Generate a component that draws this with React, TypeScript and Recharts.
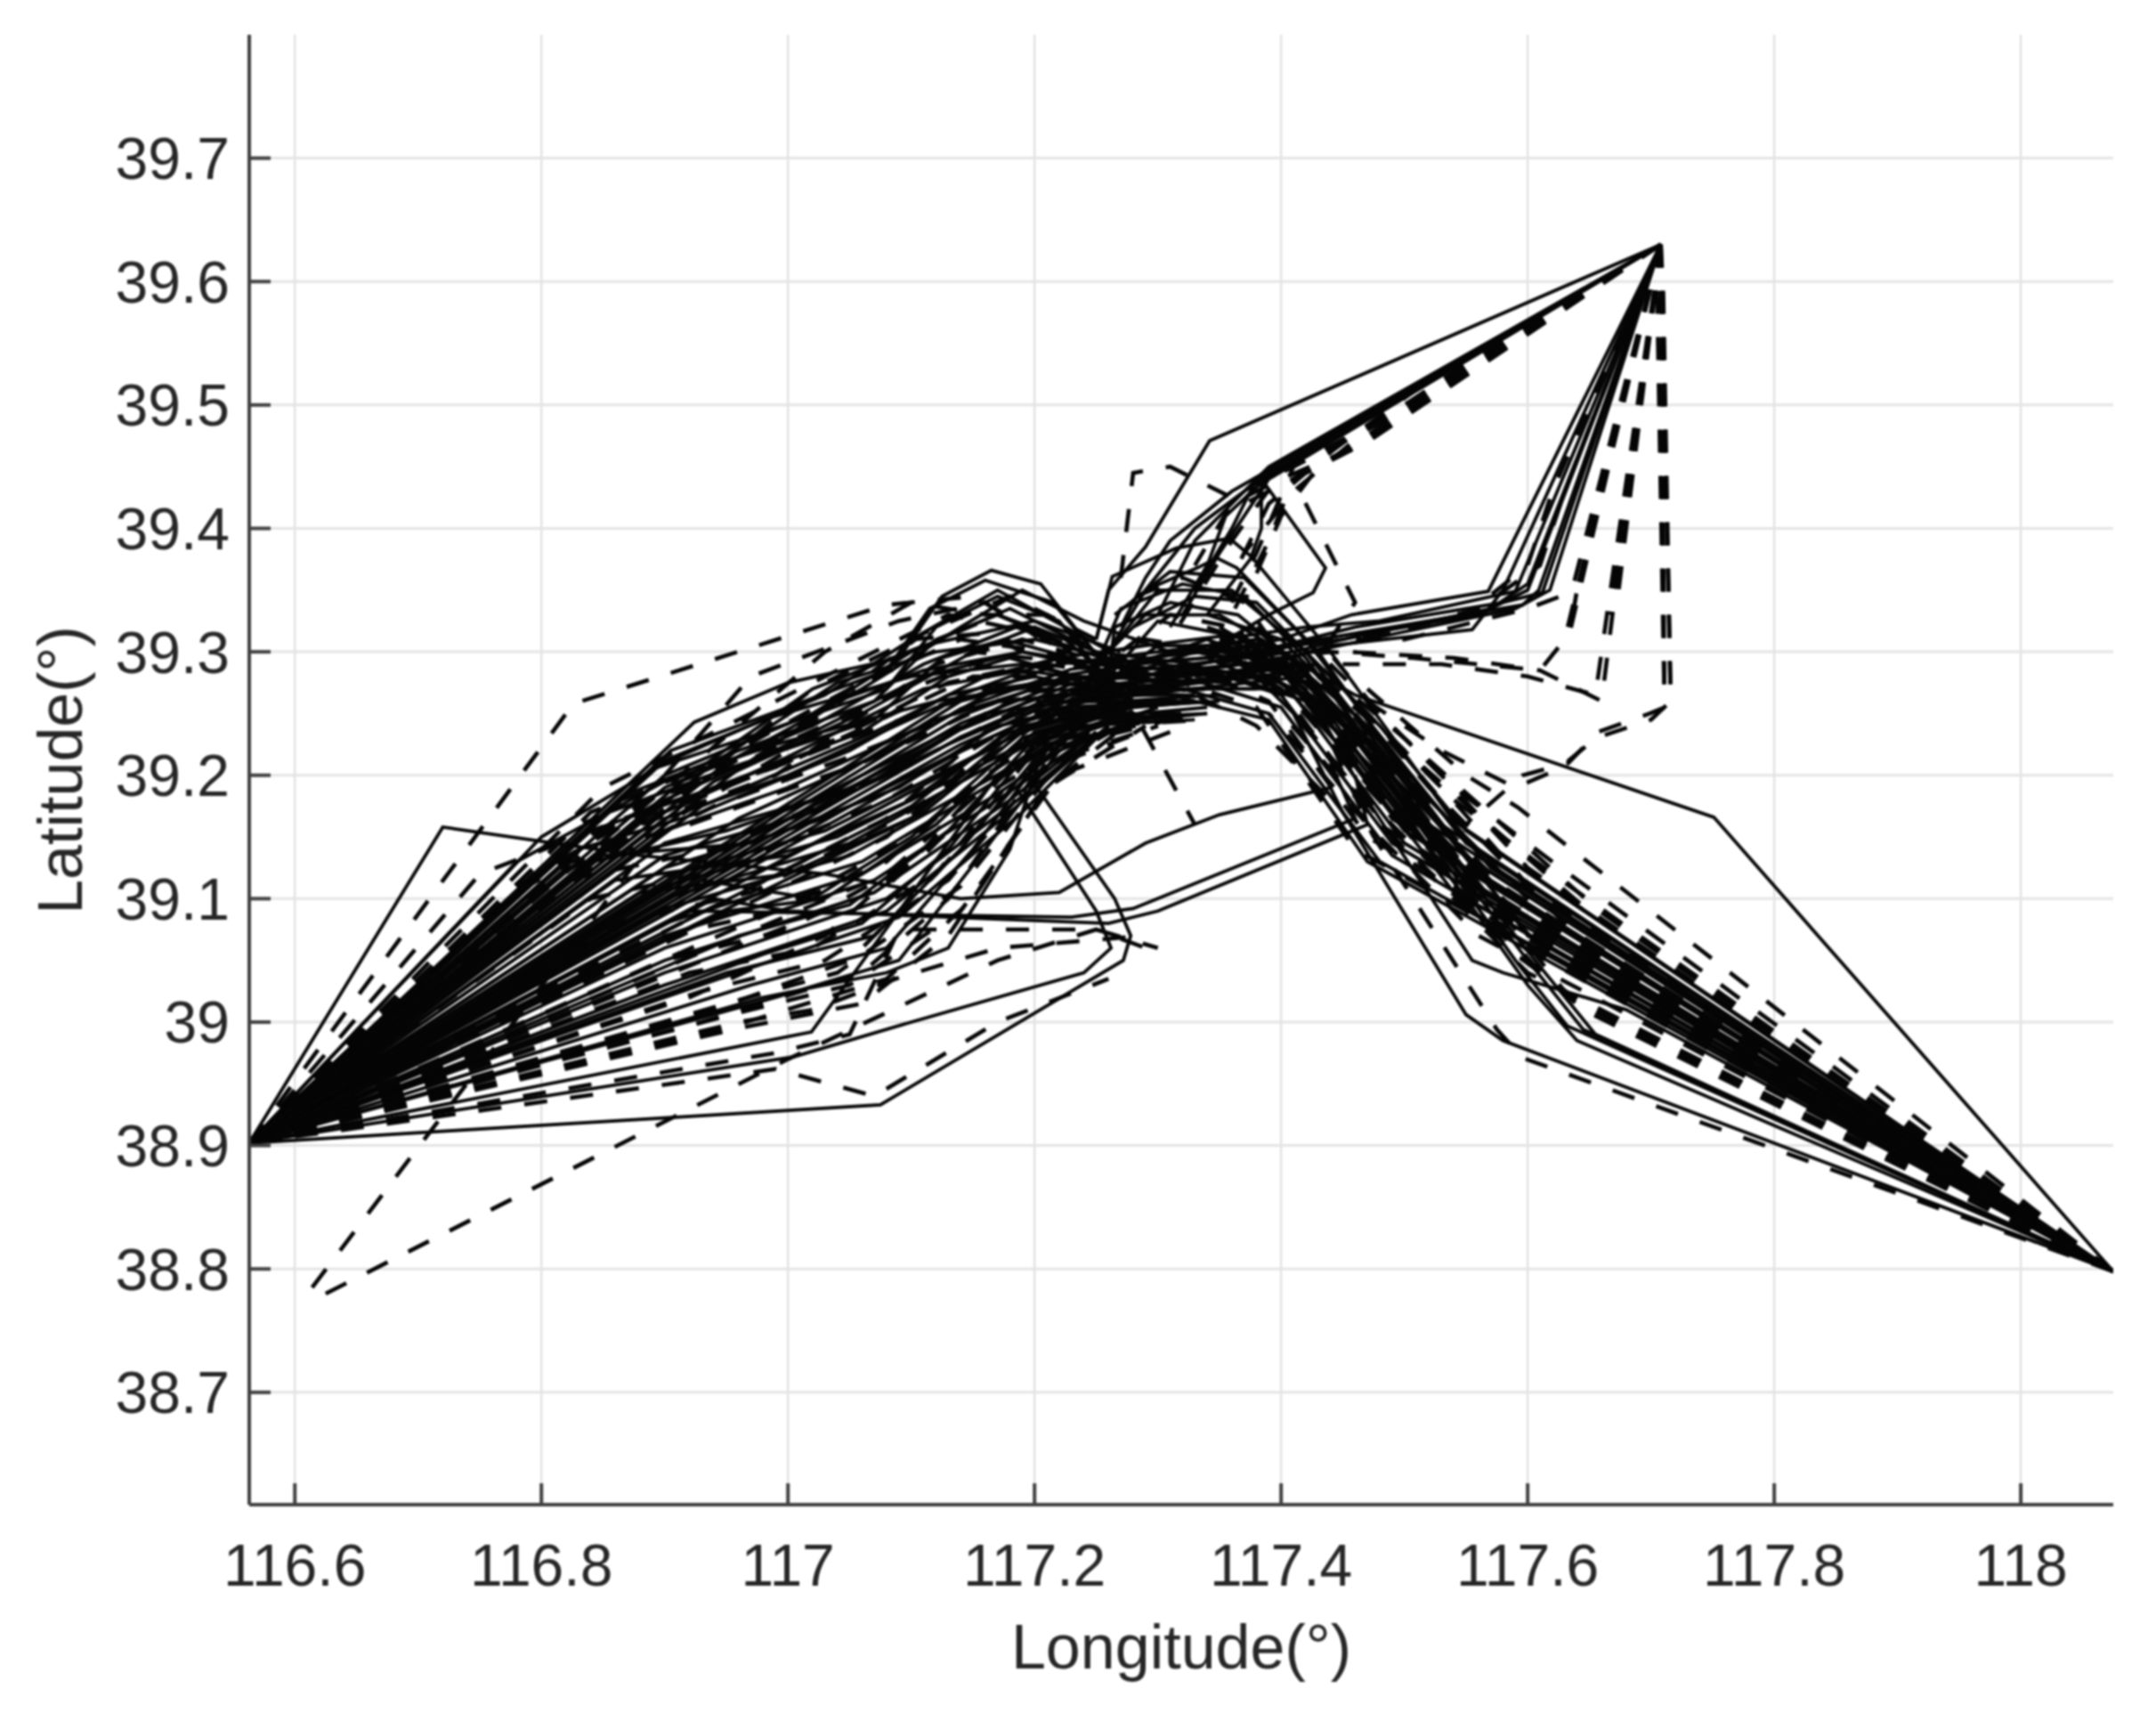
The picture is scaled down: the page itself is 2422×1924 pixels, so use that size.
import { CartesianGrid, Line, LineChart, XAxis, YAxis } from 'recharts'

type Pair = [number, number]

const lonTicks = [116.6, 116.8, 117, 117.2, 117.4, 117.6, 117.8, 118]
const latTicks = [38.7, 38.8, 38.9, 39, 39.1, 39.2, 39.3, 39.4, 39.5, 39.6, 39.7]

const westOrigin: Pair = [116.563, 38.902]
const eastOrigin: Pair = [118.075, 38.798]
const northOrigin: Pair = [117.708, 39.63]

// lon/lat waypoints, each route leaves its origin
const westSolid: Pair[][] = [
  [[116.72, 39.158], [116.88, 39.135], [117.03, 39.12], [117.14, 39.1], [117.22, 39.105], [117.29, 39.145], [117.35, 39.168], [117.44, 39.19]],
  [[117.075, 38.933], [117.235, 39.028], [117.272, 39.05], [117.278, 39.07], [117.265, 39.1], [117.195, 39.2], [117.27, 39.27]],
  [[117.005, 38.972], [117.1, 39.0], [117.24, 39.04], [117.262, 39.06], [117.25, 39.09], [117.185, 39.19], [117.26, 39.265]],
  [[117.019, 38.992], [117.17, 39.2], [117.27, 39.27]],
  [[116.98, 39.02], [117.08, 39.04], [117.13, 39.06], [117.18, 39.14], [117.21, 39.23], [117.28, 39.26]],
  [[116.92, 39.09], [117.23, 39.085], [117.28, 39.092], [117.46, 39.165], [117.44, 39.21]],
  [[116.94, 39.1], [117.0, 39.09], [117.26, 39.08], [117.3, 39.09], [117.47, 39.16], [117.46, 39.2]],
  [[116.924, 39.243], [117.0, 39.275], [117.09, 39.295], [117.125, 39.345], [117.165, 39.366], [117.205, 39.355], [117.26, 39.285]],
  [[116.905, 39.22], [117.0, 39.255], [117.08, 39.285], [117.115, 39.335], [117.16, 39.358], [117.215, 39.34], [117.265, 39.28]],
  [[116.89, 39.205], [116.98, 39.235], [117.08, 39.27], [117.12, 39.32], [117.17, 39.345], [117.22, 39.325], [117.26, 39.275]],
  [[116.87, 39.185], [116.96, 39.22], [117.07, 39.26], [117.12, 39.31], [117.17, 39.33], [117.225, 39.31], [117.265, 39.275]],
  [[116.855, 39.17], [116.95, 39.205], [117.07, 39.245], [117.125, 39.295], [117.175, 39.31], [117.23, 39.295], [117.27, 39.27]],
  [[116.84, 39.155], [116.94, 39.19], [117.06, 39.235], [117.13, 39.28], [117.18, 39.295], [117.27, 39.27]],
  [[116.83, 39.14], [116.93, 39.17], [117.05, 39.22], [117.13, 39.265], [117.2, 39.28], [117.27, 39.265]],
  [[116.82, 39.125], [116.95, 39.155], [117.08, 39.2], [117.16, 39.25], [117.27, 39.265]],
  [[116.85, 39.135], [116.97, 39.145], [117.09, 39.19], [117.17, 39.24], [117.28, 39.262]],
  [[116.86, 39.115], [117.0, 39.135], [117.1, 39.18], [117.18, 39.235], [117.28, 39.26]],
  [[116.88, 39.105], [117.0, 39.12], [117.11, 39.17], [117.19, 39.235], [117.28, 39.26]],
  [[116.93, 39.115], [117.02, 39.1], [117.1, 39.15], [117.19, 39.23], [117.28, 39.258]],
  [[116.95, 39.09], [117.03, 39.1], [117.12, 39.16], [117.2, 39.235], [117.29, 39.26]],
  [[116.96, 39.07], [117.05, 39.095], [117.13, 39.155], [117.2, 39.23], [117.28, 39.255]],
  [[116.98, 39.055], [117.06, 39.08], [117.13, 39.14], [117.2, 39.225], [117.28, 39.252]],
  [[116.95, 39.04], [117.07, 39.07], [117.14, 39.14], [117.21, 39.225], [117.3, 39.255]],
  [[116.97, 39.03], [117.08, 39.06], [117.15, 39.14], [117.21, 39.22], [117.3, 39.25]],
  [[116.99, 39.02], [117.09, 39.05], [117.16, 39.14], [117.22, 39.22], [117.3, 39.25]],
  [[116.8, 39.15], [116.9, 39.21], [116.98, 39.245], [117.1, 39.28], [117.19, 39.29], [117.28, 39.27]],
  [[116.78, 39.13], [116.9, 39.195], [116.99, 39.225], [117.12, 39.26], [117.22, 39.275], [117.3, 39.27]],
]

const westSolidDense: Pair[][] = [
  [[116.9, 39.212], [117.03, 39.265], [117.1, 39.31], [117.17, 39.35], [117.225, 39.32], [117.28, 39.29], [117.36, 39.31]],
  [[116.9, 39.2], [117.02, 39.25], [117.1, 39.3], [117.18, 39.335], [117.23, 39.31], [117.29, 39.28], [117.38, 39.3]],
  [[116.9, 39.19], [117.02, 39.24], [117.11, 39.29], [117.185, 39.32], [117.24, 39.3], [117.3, 39.28], [117.38, 39.285]],
  [[116.9, 39.18], [117.0, 39.225], [117.11, 39.28], [117.19, 39.3], [117.3, 39.275], [117.4, 39.28]],
  [[116.9, 39.17], [117.0, 39.215], [117.11, 39.27], [117.19, 39.285], [117.3, 39.27], [117.4, 39.27]],
  [[116.9, 39.165], [117.0, 39.2], [117.12, 39.255], [117.2, 39.275], [117.32, 39.27]],
  [[116.9, 39.155], [117.0, 39.19], [117.12, 39.245], [117.2, 39.27], [117.32, 39.265]],
  [[116.9, 39.145], [117.02, 39.18], [117.13, 39.235], [117.21, 39.265], [117.33, 39.265]],
  [[116.9, 39.135], [117.02, 39.17], [117.13, 39.225], [117.21, 39.26], [117.33, 39.26]],
  [[116.9, 39.125], [117.03, 39.165], [117.14, 39.22], [117.22, 39.255], [117.33, 39.26]],
  [[116.9, 39.118], [117.03, 39.155], [117.14, 39.21], [117.22, 39.25], [117.34, 39.26]],
  [[116.9, 39.11], [117.04, 39.15], [117.15, 39.205], [117.23, 39.245], [117.34, 39.255]],
  [[116.9, 39.1], [117.05, 39.145], [117.15, 39.2], [117.23, 39.245], [117.34, 39.25]],
  [[116.9, 39.092], [117.05, 39.135], [117.16, 39.195], [117.24, 39.24], [117.34, 39.25]],
  [[116.9, 39.08], [117.06, 39.13], [117.16, 39.19], [117.24, 39.24], [117.33, 39.245]],
  [[116.9, 39.07], [117.06, 39.12], [117.17, 39.185], [117.25, 39.24]],
  [[116.9, 39.06], [117.07, 39.115], [117.17, 39.18], [117.25, 39.235]],
  [[116.9, 39.05], [117.07, 39.105], [117.18, 39.18], [117.25, 39.235]],
  [[116.9, 39.04], [117.08, 39.1], [117.18, 39.175], [117.26, 39.24]],
  [[116.9, 39.03], [117.08, 39.09], [117.18, 39.17], [117.26, 39.24]],
  [[116.9, 39.02], [117.09, 39.085], [117.19, 39.17], [117.26, 39.24]],
  [[116.95, 39.21], [117.06, 39.27], [117.14, 39.32], [117.19, 39.35], [117.24, 39.325], [117.31, 39.3]],
  [[116.94, 39.195], [117.06, 39.25], [117.15, 39.3], [117.2, 39.32], [117.25, 39.3], [117.33, 39.29]],
  [[116.93, 39.175], [117.07, 39.235], [117.16, 39.28], [117.22, 39.295], [117.35, 39.28]],
  [[116.96, 39.165], [117.08, 39.22], [117.17, 39.27], [117.24, 39.28], [117.36, 39.275]],
  [[116.97, 39.15], [117.09, 39.21], [117.18, 39.26], [117.26, 39.27], [117.38, 39.27]],
]

// long straight rays out of the west point, the darkest strokes of the fan
const westRays: Pair[][] = [
  [[117.14, 39.208], [117.23, 39.258], [117.31, 39.268], [117.42, 39.28]],
  [[117.14, 39.219], [117.23, 39.262], [117.31, 39.272], [117.42, 39.285]],
  [[117.14, 39.225], [117.23, 39.266], [117.32, 39.276], [117.43, 39.29]],
  [[117.14, 39.231], [117.23, 39.27], [117.32, 39.28], [117.42, 39.29]],
  [[117.14, 39.237], [117.23, 39.274], [117.31, 39.284], [117.41, 39.295]],
  [[117.14, 39.242], [117.23, 39.278], [117.31, 39.288], [117.41, 39.3]],
  [[117.14, 39.248], [117.23, 39.282], [117.3, 39.292], [117.4, 39.3]],
  [[117.14, 39.254], [117.23, 39.286], [117.3, 39.296], [117.39, 39.305]],
  [[117.14, 39.26], [117.22, 39.29], [117.3, 39.3], [117.38, 39.31]],
  [[117.14, 39.265], [117.22, 39.295], [117.29, 39.305], [117.37, 39.315]],
  [[117.1, 39.175], [117.19, 39.245], [117.27, 39.26], [117.35, 39.265]],
  [[117.1, 39.165], [117.19, 39.24], [117.27, 39.255], [117.35, 39.26]],
  [[116.96, 39.205], [117.04, 39.26], [117.11, 39.285], [117.19, 39.3], [117.28, 39.285]],
  [[116.94, 39.21], [117.04, 39.275], [117.12, 39.3], [117.2, 39.31], [117.28, 39.29]],
  [[116.92, 39.2], [117.02, 39.27], [117.11, 39.305], [117.2, 39.325], [117.27, 39.3]],
]

const westDashed: Pair[][] = [
  [[116.826, 39.258], [117.08, 39.338], [117.15, 39.345], [117.23, 39.3]],
  [[116.9, 39.2], [116.97, 39.28], [117.09, 39.325], [117.16, 39.34], [117.25, 39.28]],
  [[116.85, 39.19], [116.93, 39.23], [117.05, 39.29], [117.13, 39.33], [117.2, 39.315], [117.27, 39.27]],
  [[116.84, 39.17], [116.94, 39.21], [117.05, 39.27], [117.14, 39.31], [117.21, 39.3], [117.27, 39.27]],
  [[116.83, 39.16], [116.93, 39.195], [117.05, 39.25], [117.15, 39.29], [117.28, 39.27]],
  [[116.82, 39.145], [116.92, 39.18], [117.05, 39.23], [117.16, 39.27], [117.28, 39.265]],
  [[116.81, 39.13], [116.92, 39.16], [117.06, 39.21], [117.17, 39.26], [117.29, 39.26]],
  [[116.82, 39.115], [116.94, 39.14], [117.07, 39.195], [117.18, 39.25], [117.3, 39.26]],
  [[116.84, 39.1], [116.95, 39.125], [117.08, 39.18], [117.19, 39.245], [117.3, 39.255]],
  [[116.86, 39.08], [116.97, 39.105], [117.09, 39.165], [117.2, 39.24], [117.3, 39.25]],
  [[116.88, 39.065], [116.99, 39.09], [117.1, 39.15], [117.2, 39.23], [117.3, 39.25]],
  [[116.9, 39.05], [117.0, 39.075], [117.11, 39.135], [117.2, 39.225], [117.31, 39.245]],
  [[116.92, 39.04], [117.02, 39.06], [117.12, 39.12], [117.21, 39.22], [117.31, 39.245]],
  [[116.93, 39.025], [117.03, 39.05], [117.13, 39.115], [117.21, 39.21], [117.3, 39.24]],
  [[116.95, 39.015], [117.04, 39.04], [117.14, 39.11], [117.22, 39.21], [117.3, 39.24]],
  [[116.95, 39.005], [117.05, 39.03], [117.14, 39.09], [117.22, 39.2], [117.31, 39.235]],
  [[116.96, 38.995], [117.06, 39.015], [117.13, 39.07], [117.21, 39.19], [117.29, 39.24]],
  [[116.99, 38.975], [117.05, 38.99], [117.09, 39.075], [117.25, 39.075], [117.3, 39.06]],
  [[116.99, 38.962], [117.07, 38.94], [117.17, 39.0], [117.26, 39.035]],
  [[116.96, 39.0], [117.02, 39.01], [117.09, 39.036], [117.17, 39.06], [117.29, 39.07]],
  [[116.75, 39.12], [116.88, 39.17], [117.0, 39.21], [117.15, 39.28], [117.27, 39.28]],
  [[116.76, 39.09], [116.9, 39.19], [117.0, 39.23], [117.1, 39.3], [117.17, 39.33], [117.24, 39.3]],
  [[116.78, 39.11], [116.89, 39.175], [117.01, 39.24], [117.11, 39.315], [117.18, 39.345], [117.25, 39.31]],
  [[116.77, 39.1], [116.88, 39.16], [116.99, 39.2], [117.12, 39.29], [117.19, 39.31], [117.26, 39.29]],
  [[116.8, 39.11], [116.9, 39.17], [117.01, 39.215], [117.13, 39.275], [117.2, 39.29], [117.33, 39.28]],
  [[116.83, 39.12], [116.94, 39.175], [117.05, 39.215], [117.16, 39.26], [117.34, 39.27]],
  [[116.92, 39.02], [117.03, 39.07], [117.11, 39.14], [117.19, 39.23], [117.3, 39.26]],
  [[116.94, 39.01], [117.05, 39.05], [117.12, 39.12], [117.2, 39.22], [117.28, 39.25]],
  [[116.93, 39.0], [117.06, 39.04], [117.13, 39.1], [117.2, 39.2], [117.27, 39.24]],
  [[116.95, 38.995], [117.08, 39.035], [117.15, 39.1], [117.21, 39.19], [117.28, 39.245]],
  [[117.08, 39.13], [117.16, 39.2], [117.24, 39.25], [117.33, 39.25]],
  [[117.08, 39.12], [117.16, 39.19], [117.24, 39.245], [117.33, 39.245]],
  [[117.08, 39.11], [117.17, 39.19], [117.25, 39.24], [117.34, 39.245]],
  [[117.08, 39.15], [117.16, 39.22], [117.24, 39.26], [117.32, 39.26]],
  [[117.08, 39.165], [117.16, 39.235], [117.24, 39.27], [117.32, 39.27]],
  [[117.03, 39.3], [117.1, 39.34], [117.16, 39.33], [117.21, 39.33], [117.26, 39.29]],
  [[117.02, 39.27], [117.1, 39.31], [117.16, 39.315], [117.21, 39.29], [117.27, 39.28]],
]

const strayDashed: Pair[][] = [
  [[116.614, 38.785], [116.705, 38.905], [116.9, 39.16], [117.0, 39.22], [117.15, 39.3], [117.24, 39.29]],
  [[116.625, 38.78], [117.0, 38.97], [117.17, 39.05], [117.25, 39.075], [117.29, 39.06]],
  [[117.27, 39.27], [117.33, 39.16]],
  [[117.3, 39.28], [117.38, 39.24], [117.44, 39.18]],
]

const eastSolid: Pair[][] = [
  [[117.751, 39.166], [117.46, 39.265], [117.38, 39.31], [117.33, 39.3]],
  [[117.58, 38.985], [117.55, 39.006], [117.45, 39.17], [117.41, 39.25], [117.36, 39.3]],
  [[117.64, 38.985], [117.6, 39.03], [117.5, 39.17], [117.43, 39.26], [117.37, 39.31]],
  [[117.68, 39.01], [117.58, 39.04], [117.555, 39.05], [117.47, 39.18], [117.42, 39.27], [117.36, 39.31]],
  [[117.632, 38.997], [117.59, 39.05], [117.49, 39.19], [117.42, 39.28], [117.35, 39.32]],
  [[117.645, 38.994], [117.6, 39.05], [117.5, 39.18], [117.43, 39.27], [117.34, 39.31]],
  [[117.655, 38.99], [117.61, 39.045], [117.51, 39.17], [117.44, 39.27], [117.34, 39.3]],
  [[117.54, 39.163], [117.44, 39.3], [117.376, 39.377], [117.358, 39.392], [117.315, 39.384], [117.263, 39.361], [117.25, 39.31]],
  [[117.53, 39.16], [117.43, 39.3], [117.364, 39.368], [117.348, 39.376], [117.332, 39.368], [117.29, 39.35], [117.26, 39.3]],
  [[117.52, 39.16], [117.42, 39.295], [117.37, 39.345], [117.32, 39.355], [117.27, 39.335], [117.255, 39.3]],
  [[117.51, 39.16], [117.42, 39.285], [117.365, 39.33], [117.31, 39.34], [117.265, 39.32], [117.26, 39.28]],
  [[117.51, 39.15], [117.41, 39.28], [117.35, 39.315], [117.3, 39.325], [117.26, 39.28]],
  [[117.5, 39.155], [117.4, 39.285], [117.35, 39.305], [117.3, 39.305], [117.25, 39.27]],
  [[117.5, 39.145], [117.41, 39.265], [117.34, 39.295], [117.28, 39.29], [117.24, 39.265]],
  [[117.49, 39.145], [117.4, 39.265], [117.34, 39.285], [117.27, 39.28], [117.23, 39.265]],
  [[117.49, 39.135], [117.4, 39.255], [117.32, 39.28], [117.25, 39.27]],
  [[117.48, 39.13], [117.39, 39.25], [117.32, 39.27], [117.24, 39.265]],
  [[117.47, 39.13], [117.39, 39.245], [117.31, 39.265], [117.23, 39.265]],
  [[117.6, 39.07], [117.47, 39.24], [117.4, 39.3], [117.34, 39.32]],
  [[117.61, 39.06], [117.47, 39.23], [117.41, 39.29], [117.35, 39.3]],
  [[117.55, 39.092], [117.46, 39.21], [117.4, 39.275], [117.32, 39.29], [117.26, 39.27]],
  [[117.55, 39.1], [117.46, 39.22], [117.4, 39.285], [117.33, 39.3], [117.27, 39.28]],
  [[117.55, 39.113], [117.47, 39.22], [117.41, 39.285], [117.34, 39.31], [117.28, 39.29]],
  [[117.55, 39.123], [117.47, 39.225], [117.41, 39.295], [117.35, 39.33], [117.29, 39.33], [117.25, 39.29]],
  [[117.55, 39.134], [117.47, 39.235], [117.42, 39.3], [117.36, 39.35], [117.3, 39.35], [117.26, 39.3]],
  [[117.55, 39.145], [117.47, 39.245], [117.42, 39.31], [117.37, 39.36], [117.31, 39.365], [117.265, 39.33]],
  [[117.55, 39.155], [117.48, 39.24], [117.43, 39.29], [117.38, 39.34], [117.33, 39.345], [117.28, 39.32]],
  [[117.56, 39.1], [117.48, 39.2], [117.42, 39.26], [117.36, 39.28], [117.28, 39.27]],
  [[117.56, 39.11], [117.48, 39.21], [117.43, 39.26], [117.37, 39.29], [117.3, 39.28]],
  [[117.56, 39.12], [117.49, 39.21], [117.44, 39.26], [117.38, 39.3], [117.31, 39.3]],
  [[117.57, 39.115], [117.49, 39.2], [117.44, 39.25], [117.39, 39.28], [117.3, 39.29]],
  [[117.57, 39.125], [117.5, 39.205], [117.45, 39.26], [117.4, 39.31], [117.34, 39.33]],
  [[117.58, 39.12], [117.5, 39.2], [117.45, 39.25], [117.4, 39.29], [117.33, 39.28]],
]

const eastDashed: Pair[][] = [
  [[117.592, 39.174], [117.55, 39.2], [117.47, 39.27]],
  [[117.658, 39.09], [117.5, 39.23], [117.44, 39.28]],
  [[117.655, 39.085], [117.5, 39.22], [117.43, 39.28]],
  [[117.596, 38.971], [117.575, 38.994], [117.474, 39.152], [117.43, 39.25]],
  [[117.65, 39.011], [117.594, 39.052], [117.567, 39.077], [117.48, 39.18], [117.43, 39.26]],
  [[117.645, 39.01], [117.6, 39.05], [117.57, 39.08], [117.47, 39.19], [117.42, 39.26]],
  [[117.6, 39.09], [117.5, 39.19], [117.42, 39.28]],
  [[117.59, 39.09], [117.5, 39.18], [117.42, 39.27]],
  [[117.58, 39.09], [117.49, 39.18], [117.41, 39.27]],
  [[117.57, 39.09], [117.49, 39.17], [117.41, 39.26]],
  [[117.56, 39.09], [117.48, 39.17], [117.4, 39.26]],
  [[117.57, 39.075], [117.48, 39.16], [117.4, 39.25]],
  [[117.56, 39.07], [117.47, 39.16], [117.39, 39.25]],
  [[117.6, 39.04], [117.5, 39.14], [117.42, 39.24]],
  [[117.62, 39.03], [117.52, 39.14], [117.44, 39.23]],
  [[117.63, 39.025], [117.53, 39.15], [117.45, 39.25]],
  [[117.64, 39.07], [117.53, 39.18], [117.47, 39.25]],
  [[117.63, 39.07], [117.53, 39.17], [117.46, 39.25]],
  [[117.61, 39.1], [117.53, 39.19], [117.48, 39.24], [117.44, 39.28]],
  [[117.62, 39.13], [117.54, 39.19], [117.48, 39.25], [117.43, 39.31]],
  [[117.62, 39.12], [117.54, 39.18], [117.47, 39.25], [117.42, 39.3]],
  [[117.6, 39.125], [117.53, 39.2], [117.46, 39.27], [117.41, 39.32]],
  [[117.6, 39.11], [117.52, 39.19], [117.46, 39.26], [117.4, 39.3]],
  [[117.58, 39.105], [117.51, 39.18], [117.45, 39.26], [117.39, 39.31]],
  [[117.56, 39.105], [117.49, 39.19], [117.44, 39.27], [117.38, 39.32]],
  [[117.5, 39.16], [117.42, 39.27], [117.37, 39.34], [117.32, 39.36], [117.27, 39.34]],
  [[117.49, 39.165], [117.41, 39.28], [117.36, 39.32], [117.31, 39.33], [117.27, 39.3]],
  [[117.48, 39.16], [117.4, 39.27], [117.35, 39.3], [117.29, 39.31], [117.25, 39.28]],
  [[117.47, 39.15], [117.39, 39.26], [117.33, 39.285], [117.27, 39.28], [117.21, 39.26]],
  [[117.46, 39.14], [117.38, 39.255], [117.32, 39.275], [117.26, 39.27], [117.2, 39.25]],
]

const northSolid: Pair[][] = [
  [[117.342, 39.471], [117.29, 39.385], [117.26, 39.35], [117.25, 39.31]],
  [[117.384, 39.444], [117.384, 39.4], [117.375, 39.375], [117.34, 39.33]],
  [[117.384, 39.44], [117.436, 39.368], [117.426, 39.348], [117.39, 39.33], [117.34, 39.3]],
  [[117.36, 39.43], [117.31, 39.39], [117.29, 39.36], [117.27, 39.32]],
  [[117.609, 39.35], [117.596, 39.338], [117.49, 39.32], [117.43, 39.31], [117.35, 39.29]],
  [[117.568, 39.349], [117.457, 39.33], [117.4, 39.31], [117.34, 39.3]],
  [[117.59, 39.349], [117.48, 39.325], [117.42, 39.32], [117.35, 39.31]],
  [[117.6, 39.35], [117.56, 39.33], [117.47, 39.315], [117.41, 39.3], [117.33, 39.29]],
  [[117.58, 39.35], [117.555, 39.318], [117.44, 39.305], [117.36, 39.28]],
  [[117.39, 39.45], [117.36, 39.42], [117.33, 39.39], [117.3, 39.33]],
  [[117.612, 39.348], [117.58, 39.34], [117.46, 39.32], [117.38, 39.3]],
  [[117.618, 39.35], [117.59, 39.335], [117.47, 39.31], [117.38, 39.29]],
  [[117.6, 39.355], [117.57, 39.335], [117.45, 39.31], [117.37, 39.3]],
  [[117.385, 39.438], [117.355, 39.41], [117.34, 39.37], [117.31, 39.32]],
  [[117.39, 39.44], [117.37, 39.41], [117.35, 39.38], [117.32, 39.33]],
  [[117.4, 39.45], [117.37, 39.43], [117.33, 39.4], [117.29, 39.35]],
  [[117.41, 39.455], [117.38, 39.44], [117.36, 39.4], [117.33, 39.35]],
]

const northDashed: Pair[][] = [
  [[117.711, 39.255], [117.699, 39.25], [117.657, 39.235], [117.633, 39.21], [117.596, 39.2], [117.55, 39.16], [117.5, 39.19], [117.46, 39.24]],
  [[117.716, 39.26], [117.7, 39.245], [117.655, 39.23], [117.625, 39.205], [117.59, 39.19], [117.53, 39.22], [117.47, 39.26]],
  [[117.67, 39.34], [117.66, 39.26], [117.64, 39.27], [117.61, 39.285], [117.54, 39.295], [117.455, 39.3], [117.38, 39.3]],
  [[117.665, 39.335], [117.655, 39.265], [117.6, 39.28], [117.53, 39.29], [117.45, 39.29]],
  [[117.634, 39.315], [117.64, 39.35], [117.6, 39.335], [117.5, 39.31], [117.4, 39.31]],
  [[117.63, 39.31], [117.61, 39.285], [117.507, 39.295], [117.44, 39.3], [117.36, 39.29]],
  [[117.462, 39.466], [117.37, 39.42], [117.31, 39.45], [117.28, 39.445], [117.27, 39.36]],
  [[117.45, 39.46], [117.41, 39.44], [117.46, 39.34], [117.44, 39.31]],
  [[117.47, 39.47], [117.4, 39.44], [117.36, 39.42], [117.33, 39.37]],
  [[117.49, 39.49], [117.4, 39.445], [117.36, 39.39], [117.31, 39.31]],
  [[117.5, 39.5], [117.41, 39.45], [117.38, 39.38], [117.35, 39.32]],
  [[117.52, 39.52], [117.41, 39.44], [117.39, 39.39], [117.36, 39.33]],
  [[117.54, 39.52], [117.43, 39.45], [117.4, 39.41], [117.37, 39.34]],
  [[117.56, 39.535], [117.45, 39.47], [117.39, 39.42], [117.36, 39.36]],
  [[117.575, 39.55], [117.47, 39.48], [117.41, 39.43], [117.37, 39.38]],
  [[117.62, 39.43], [117.6, 39.37], [117.55, 39.33], [117.46, 39.31]],
  [[117.63, 39.43], [117.61, 39.37], [117.56, 39.335], [117.47, 39.31]],
]

// the north vertical dashes keep close to the same line, so they sit as their own routes
const northVerticals: Pair[][] = [
  [northOrigin, [117.705, 39.59], [117.711, 39.255]],
  [northOrigin, [117.71, 39.59], [117.716, 39.26]],
  [northOrigin, [117.672, 39.335]],
  [northOrigin, [117.667, 39.33]],
  [northOrigin, [117.636, 39.35]],
]

const toPoints = (route: Pair[]) => route.map(([lon, lat]) => ({ lon, lat }))

const solidRoutes = [
  ...westSolid.map((r) => [westOrigin, ...r]),
  ...westSolidDense.map((r) => [westOrigin, ...r]),
  ...westRays.map((r) => [westOrigin, ...r]),
  ...eastSolid.map((r) => [eastOrigin, ...r]),
  ...northSolid.map((r) => [northOrigin, ...r]),
]

const dashedRoutes = [
  ...westDashed.map((r) => [westOrigin, ...r]),
  ...strayDashed,
  ...eastDashed.map((r) => [eastOrigin, ...r]),
  ...northDashed.map((r) => [northOrigin, ...r]),
  ...northVerticals,
]

const axisColor = '#404040'
const textColor = '#262626'
const fontFamily = 'Liberation Sans, Arial, sans-serif'
const tickFont = { fontFamily, fontSize: 66, fill: textColor }

function LatLabel() {
  return (
    <text transform="translate(92,865) rotate(-90)" textAnchor="middle" fontFamily={fontFamily} fontSize={70} fill={textColor}>
      Latitude(°)
    </text>
  )
}

export default function App() {
  return (
    <div style={{ position: 'absolute', left: 0, top: 0, background: '#fff', filter: 'blur(1px)' }}>
      <LineChart width={2422} height={1924} margin={{ top: 39, right: 48, bottom: 0, left: 0 }}>
        <CartesianGrid horizontal={false} syncWithTicks stroke="#dcdcdc" strokeWidth={2} />
        <CartesianGrid vertical={false} syncWithTicks stroke="#e4e4e4" strokeWidth={3} />
        <XAxis
          type="number"
          dataKey="lon"
          domain={[116.563, 118.075]}
          ticks={lonTicks}
          interval={0}
          allowDataOverflow
          height={234}
          tick={tickFont}
          tickSize={-24}
          tickMargin={68}
          stroke={axisColor}
          strokeWidth={4}
          label={{ value: 'Longitude(°)', position: 'insideBottom', offset: 50, fontFamily, fontSize: 70, fill: textColor }}
        />
        <YAxis
          type="number"
          dataKey="lat"
          domain={[38.609, 39.8]}
          ticks={latTicks}
          interval={0}
          allowDataOverflow
          width={280}
          tick={tickFont}
          tickSize={-24}
          tickMargin={46}
          stroke={axisColor}
          strokeWidth={4}
          label={<LatLabel />}
        />
        {solidRoutes.map((route, i) => (
          <Line
            key={`solid-${i}`}
            data={toPoints(route)}
            dataKey="lat"
            type="linear"
            stroke="#050505"
            strokeWidth={3.8}
            dot={false}
            isAnimationActive={false}
          />
        ))}
        {dashedRoutes.map((route, i) => (
          <Line
            key={`dashed-${i}`}
            data={toPoints(route)}
            dataKey="lat"
            type="linear"
            stroke="#050505"
            strokeWidth={4.6}
            strokeDasharray="26 26"
            dot={false}
            isAnimationActive={false}
          />
        ))}
      </LineChart>
    </div>
  )
}
